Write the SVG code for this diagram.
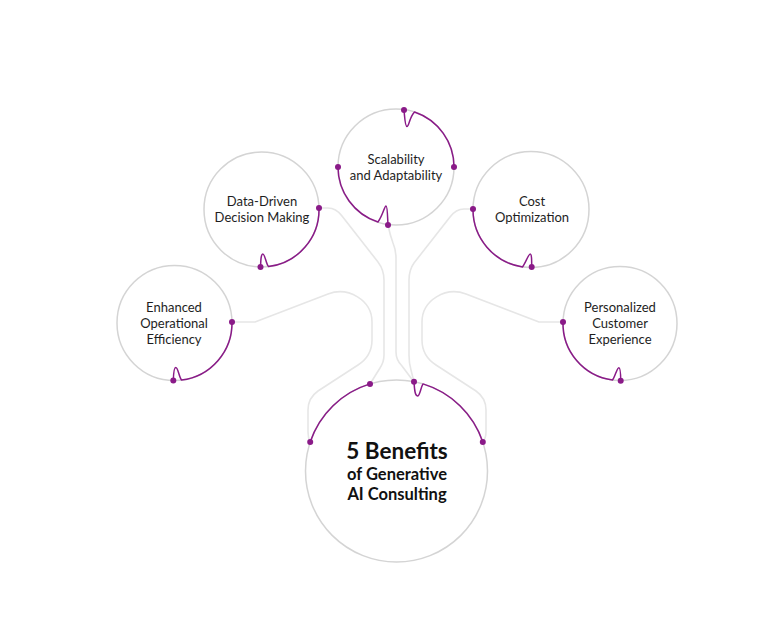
<svg xmlns="http://www.w3.org/2000/svg" width="768" height="640" viewBox="0 0 768 640">
<style>
.ring{fill:#fff;stroke:#d4d4d4;stroke-width:1.5}
.arc{fill:none;stroke:#8a1a88;stroke-width:1.5;stroke-linejoin:round}
.dot{fill:#8a1a88}
.conn{fill:none;stroke:#e6e6e6;stroke-width:1.6;stroke-linejoin:round}
.lbl{font-family:Lato,"Liberation Sans",sans-serif;font-size:13px;fill:#1e1e1e;text-anchor:middle}
.ttl{font-family:Lato,"Liberation Sans",sans-serif;font-weight:bold;fill:#111;text-anchor:middle}
</style>
<rect width="768" height="640" fill="#fff"/>
<g id="connectors">
<path class="conn" d="M319,208 L328,208 Q336,208 342,216 L378,262 Q384,270 384,280 L384,355 Q384,362 380,368 L370,384"/>
<path class="conn" d="M388,225 Q390,235 393,243 Q396,250 396,258 L396,352 Q396,360 402,366 L414,382"/>
<path class="conn" d="M473,209 L464,209 Q456,209 450,217 L414,263 Q409,270 409,280 L409,355 Q409,363 411,370 L414,382"/>
<path class="conn" d="M232,322 L255,322 L328,294 C348,286.3 372,300 372,322 L372,340 Q372,356 358,365 L318,391 Q308,398 308,410 L308,432 Q308,438 310.2,442"/>
<path class="conn" d="M563,322 L539,322 L466,294 C446,286.3 422,300 422,322 L422,340 Q422,356 436,365 L476,391 Q486,398 486,410 L486,432 Q486,438 482.8,442"/>
</g>
<g id="node-main">
<circle class="ring" cx="396.5" cy="471" r="91"/>
<path class="arc" d="M310.2,442 A91,91 0 0 1 370,383.9"/>
<path class="arc" d="M414,381.7 C414.5,390 415,396 417.5,396 C420,396 420.5,388 423,383.9 A91,91 0 0 1 482.8,442"/>
<circle class="dot" cx="310.2" cy="442" r="3"/>
<circle class="dot" cx="370" cy="383.9" r="3"/>
<circle class="dot" cx="414" cy="381.7" r="3"/>
<circle class="dot" cx="482.8" cy="442" r="3"/>
<text class="ttl" x="397" y="459" font-size="22.5">5 Benefits</text>
<text class="ttl" x="397" y="480" font-size="16.5">of Generative</text>
<text class="ttl" x="397" y="500" font-size="16.5">AI Consulting</text>
</g>
<g id="node-scalability">
<circle class="ring" cx="396" cy="167" r="58"/>
<path class="arc" d="M404,110 C404.8,118 405,126.5 407,126.5 C409,126.5 409.5,117 414.5,112 A58,58 0 0 1 454,167"/>
<path class="arc" d="M388,225 C387.5,217 387.5,206 386,206 C384.5,206 383,215 378,222 A58,58 0 0 1 338,167"/>
<circle class="dot" cx="404" cy="110" r="3"/>
<circle class="dot" cx="454" cy="167" r="3"/>
<circle class="dot" cx="388" cy="225" r="3"/>
<circle class="dot" cx="338" cy="167" r="3"/>
<text class="lbl" x="396" y="164">Scalability</text>
<text class="lbl" x="396" y="180">and Adaptability</text>
</g>
<g id="node-data">
<circle class="ring" cx="261.5" cy="209.5" r="57.5"/>
<path class="arc" d="M319,208 A57.5,57.5 0 0 1 268.5,266.6 C266,264 265,254 262.8,254 C261,254 260.8,260 260.5,267"/>
<circle class="dot" cx="319" cy="208" r="3"/>
<circle class="dot" cx="260.5" cy="267" r="3"/>
<text class="lbl" x="262" y="206">Data-Driven</text>
<text class="lbl" x="262" y="222">Decision Making</text>
</g>
<g id="node-efficiency">
<circle class="ring" cx="174.5" cy="323" r="57.5"/>
<path class="arc" d="M232,322 A57.5,57.5 0 0 1 181.5,380 C179,377 178,367.5 175.8,367.5 C174,367.5 173.5,373 173.3,380.5"/>
<circle class="dot" cx="232" cy="322" r="3"/>
<circle class="dot" cx="173.3" cy="380.5" r="3"/>
<text class="lbl" x="174" y="312">Enhanced</text>
<text class="lbl" x="174" y="328">Operational</text>
<text class="lbl" x="174" y="344">Efficiency</text>
</g>
<g id="node-cost">
<circle class="ring" cx="531" cy="209.5" r="58"/>
<path class="arc" d="M473,209 A58,58 0 0 0 522.5,266.9 C525,264 528.5,254 530.2,254 C531.7,254 531.7,260 531.7,267"/>
<circle class="dot" cx="473" cy="209" r="3"/>
<circle class="dot" cx="531.7" cy="267" r="3"/>
<text class="lbl" x="532" y="206">Cost</text>
<text class="lbl" x="532" y="222">Optimization</text>
</g>
<g id="node-personalized">
<circle class="ring" cx="620" cy="323.5" r="57"/>
<path class="arc" d="M563,322 A57,57 0 0 0 612.5,380 C615,377 617,367.7 618.8,367.7 C620.5,367.7 620.7,373 620.7,380.7"/>
<circle class="dot" cx="563" cy="322" r="3"/>
<circle class="dot" cx="620.7" cy="380.7" r="3"/>
<text class="lbl" x="620" y="312">Personalized</text>
<text class="lbl" x="620" y="328">Customer</text>
<text class="lbl" x="620" y="344">Experience</text>
</g>
</svg>
